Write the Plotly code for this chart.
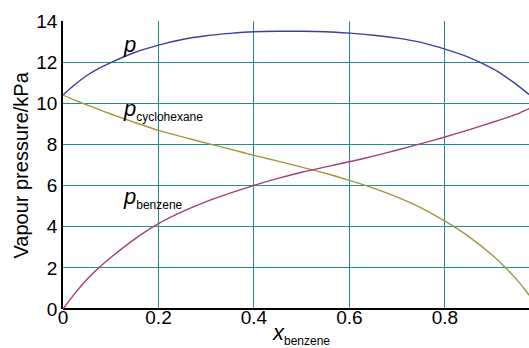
import plotly.graph_objects as go

x_benzene = [0.00, 0.025, 0.05, 0.075, 0.10, 0.15, 0.20, 0.25, 0.30, 0.35, 0.40, 0.45, 0.50,
             0.55, 0.60, 0.65, 0.70, 0.75, 0.80, 0.85, 0.90, 0.925, 0.95, 0.975, 1.00]
p_benzene = [0.00, 0.76, 1.43, 2.00, 2.50, 3.40, 4.15, 4.73, 5.22, 5.63, 6.01, 6.35, 6.65,
             6.91, 7.16, 7.43, 7.73, 8.04, 8.36, 8.71, 9.08, 9.27, 9.47, 9.73, 9.98]
p_cyclohexane = [10.40, 10.15, 9.92, 9.70, 9.48, 9.07, 8.68, 8.37, 8.06, 7.77, 7.47, 7.19, 6.90,
                 6.60, 6.25, 5.88, 5.44, 4.92, 4.27, 3.52, 2.60, 2.05, 1.44, 0.72, 0.00]
p_total = [10.40, 10.91, 11.35, 11.70, 11.98, 12.47, 12.83, 13.10, 13.28, 13.40, 13.48, 13.50, 13.50,
           13.48, 13.41, 13.31, 13.17, 12.96, 12.63, 12.23, 11.68, 11.32, 10.91, 10.45, 9.98]

x_ticks = [0, 0.2, 0.4, 0.6, 0.8]
x_ticklabels = ["0", "0.2", "0.4", "0.6", "0.8"]
y_ticks = [0, 2, 4, 6, 8, 10, 12, 14]

FONT = "Liberation Sans, Arial, sans-serif"
GRID = "#22908a"

fig = go.Figure()
fig.add_trace(go.Scatter(x=x_benzene, y=p_total, mode="lines",
                         line=dict(color="#3d3f9f", width=1.4, shape="spline", smoothing=0.6)))
fig.add_trace(go.Scatter(x=x_benzene, y=p_cyclohexane, mode="lines",
                         line=dict(color="#a3953c", width=1.4, shape="spline", smoothing=0.6)))
fig.add_trace(go.Scatter(x=x_benzene, y=p_benzene, mode="lines",
                         line=dict(color="#a33d79", width=1.4, shape="spline", smoothing=0.6)))

def label(x, y, main, sub):
    txt = "<i>" + main + "</i>"
    if sub:
        txt += "<sub><span style='font-size:12px'>" + sub + "</span></sub>"
    return dict(x=x, y=y, xref="x", yref="y", text=txt, showarrow=False,
                xanchor="left", yanchor="middle",
                font=dict(family=FONT, size=22, color="black"))

fig.update_layout(
    width=529, height=348,
    margin=dict(l=63, r=0, t=21, b=39, autoexpand=False),
    paper_bgcolor="white", plot_bgcolor="white",
    showlegend=False,
    font=dict(family=FONT, size=19, color="black"),
    xaxis=dict(range=[0, 0.976], tickvals=x_ticks, ticktext=x_ticklabels,
               showgrid=True, gridcolor=GRID, gridwidth=1.3,
               showline=False, anchor="free", position=0.018,
               zeroline=False, ticks="", tickfont=dict(size=19), automargin=False),
    yaxis=dict(range=[0, 14], tickvals=y_ticks,
               showgrid=True, gridcolor=GRID, gridwidth=1.3,
               showline=True, linecolor="black", linewidth=1.5,
               zeroline=True, zerolinecolor="black", zerolinewidth=1.5,
               ticks="", tickfont=dict(size=19), automargin=False),
    annotations=[
        label(0.122, 12.85, "p", ""),
        label(0.122, 9.65, "p", "cyclohexane"),
        label(0.122, 5.4, "p", "benzene"),
        dict(x=0.434, y=-0.086, xref="x", yref="paper",
             text="<i>x</i><sub><span style='font-size:12px'>benzene</span></sub>",
             showarrow=False, xanchor="left", yanchor="middle",
             font=dict(family=FONT, size=22, color="black")),
        dict(x=-0.091, y=0.5, xref="paper", yref="paper",
             text="Vapour pressure/kPa", textangle=-90, showarrow=False,
             xanchor="center", yanchor="middle",
             font=dict(family=FONT, size=20, color="black")),
    ],
)

fig.write_html("out.html", config={"displayModeBar": False},
               post_script="document.body.style.margin='0';document.body.style.overflow='hidden';")
